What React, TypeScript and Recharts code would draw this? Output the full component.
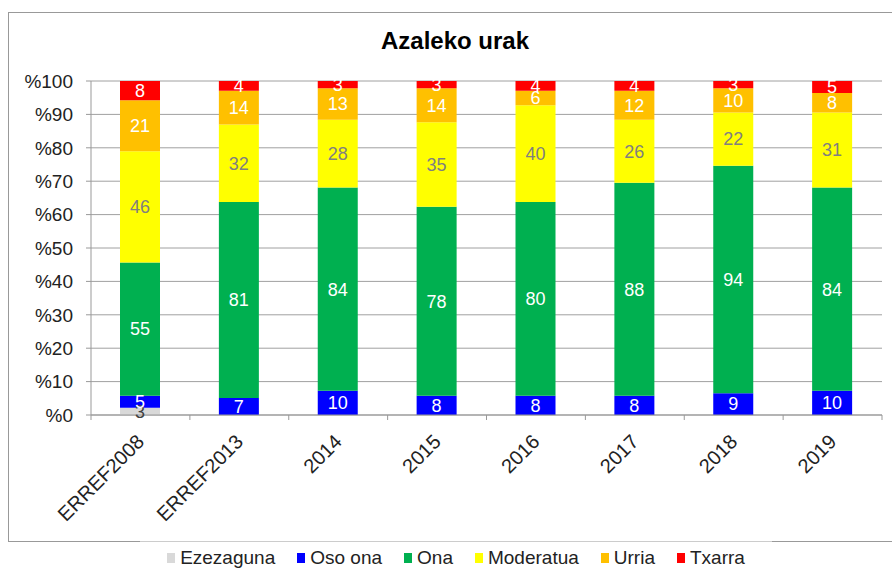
import { BarChart, Bar, XAxis, YAxis, CartesianGrid, LabelList } from 'recharts';

const categories = ['ERREF2008', 'ERREF2013', '2014', '2015', '2016', '2017', '2018', '2019'];
const ezezaguna = [3, 0, 0, 0, 0, 0, 0, 0];
const osoOna = [5, 7, 10, 8, 8, 8, 9, 10];
const ona = [55, 81, 84, 78, 80, 88, 94, 84];
const moderatua = [46, 32, 28, 35, 40, 26, 22, 31];
const urria = [21, 14, 13, 14, 6, 12, 10, 8];
const txarra = [8, 4, 3, 3, 4, 4, 3, 5];
const yTicks = [0, 0.1, 0.2, 0.3, 0.4, 0.5, 0.6, 0.7, 0.8, 0.9, 1];

const series = [
  { key: 'ezezaguna', name: 'Ezezaguna', values: ezezaguna, color: '#D9D9D9', text: '#404040' },
  { key: 'osoOna', name: 'Oso ona', values: osoOna, color: '#0000FF', text: '#FFFFFF' },
  { key: 'ona', name: 'Ona', values: ona, color: '#00B050', text: '#FFFFFF' },
  { key: 'moderatua', name: 'Moderatua', values: moderatua, color: '#FFFF00', text: '#808080' },
  { key: 'urria', name: 'Urria', values: urria, color: '#FFC000', text: '#FFFFFF' },
  { key: 'txarra', name: 'Txarra', values: txarra, color: '#FF0000', text: '#FFFFFF' },
];

const data = categories.map((cat, i) => {
  const row: Record<string, string | number> = { cat };
  series.forEach((s) => (row[s.key] = s.values[i]));
  return row;
});

const W = 892;
const H = 568;
const PLOT_LEFT = 91;
const PLOT_RIGHT = 882;
const PLOT_TOP = 81;
const PLOT_BOTTOM = 415;
const BAND = (PLOT_RIGHT - PLOT_LEFT) / categories.length;
const FONT = '"Liberation Sans", Arial, sans-serif';

const XTick = (props: any) => {
  const { x, payload, index } = props;
  const last = index === categories.length - 1;
  const tx = x + 5;
  const ty = PLOT_BOTTOM + 28;
  return (
    <g>
      <line x1={x - BAND / 2} x2={x - BAND / 2} y1={PLOT_BOTTOM} y2={PLOT_BOTTOM + 5} stroke="#999" />
      {last && <line x1={x + BAND / 2} x2={x + BAND / 2} y1={PLOT_BOTTOM} y2={PLOT_BOTTOM + 5} stroke="#999" />}
      <text
        x={tx}
        y={ty}
        transform={`rotate(-45, ${tx}, ${ty})`}
        textAnchor="end"
        fontSize={20}
        fill="#222"
        fontFamily={FONT}
      >
        {payload.value}
      </text>
    </g>
  );
};

export default function App() {
  return (
    <div style={{ position: 'fixed', left: 0, top: 0, width: W, height: H, background: '#fff', overflow: 'hidden', fontFamily: FONT }}>
      {/* outer frame */}
      <div style={{ position: 'absolute', left: 8, top: 12, width: 920, height: 528, border: '1px solid #999' }} />

      <div style={{ position: 'absolute', left: 0, top: 27, width: 910, textAlign: 'center', fontWeight: 'bold', fontSize: 24, color: '#000' }}>
        Azaleko urak
      </div>

      <div style={{ position: 'absolute', left: 0, top: 0 }}>
        <BarChart
          width={W}
          height={H}
          data={data}
          stackOffset="expand"
          barSize={40}
          margin={{ top: PLOT_TOP, right: W - PLOT_RIGHT, left: PLOT_LEFT - 80, bottom: H - PLOT_BOTTOM - 100 }}
        >
          <CartesianGrid vertical={false} stroke="#a0a0a0" />
          <XAxis
            dataKey="cat"
            interval={0}
            height={100}
            tickLine={false}
            axisLine={{ stroke: '#999' }}
            tick={<XTick />}
          />
          <YAxis
            width={80}
            domain={[0, 1]}
            ticks={yTicks}
            tickFormatter={(v: number) => '%' + Math.round(v * 100)}
            axisLine={{ stroke: '#999' }}
            tickLine={{ stroke: '#999' }}
            tickSize={5}
            tickMargin={13}
            tick={{ fontSize: 19, fill: '#222', fontFamily: FONT }}
          />
          {series.map((s) => (
            <Bar key={s.key} dataKey={s.key} name={s.name} stackId="a" fill={s.color} isAnimationActive={false}>
              <LabelList
                dataKey={s.key}
                position="center"
                fill={s.text}
                fontSize={18}
                fontFamily={FONT}
                formatter={(v: any) => (v ? v : '')}
              />
            </Bar>
          ))}
        </BarChart>
      </div>

      {/* legend */}
      <div
        style={{
          position: 'absolute',
          left: 140,
          width: 632,
          top: 541,
          height: 27,
          background: '#fff',
          borderTop: '1px solid #ccc',
          display: 'flex',
          justifyContent: 'center',
          alignItems: 'center',
          paddingTop: 6,
          boxSizing: 'border-box',
          gap: 22,
          fontSize: 19,
          color: '#222',
        }}
      >
        {series.map((s) => (
          <div key={s.key} style={{ display: 'flex', alignItems: 'center', gap: 5 }}>
            <span style={{ display: 'inline-block', width: 8, height: 10, background: s.color }} />
            <span>{s.name}</span>
          </div>
        ))}
      </div>
    </div>
  );
}
